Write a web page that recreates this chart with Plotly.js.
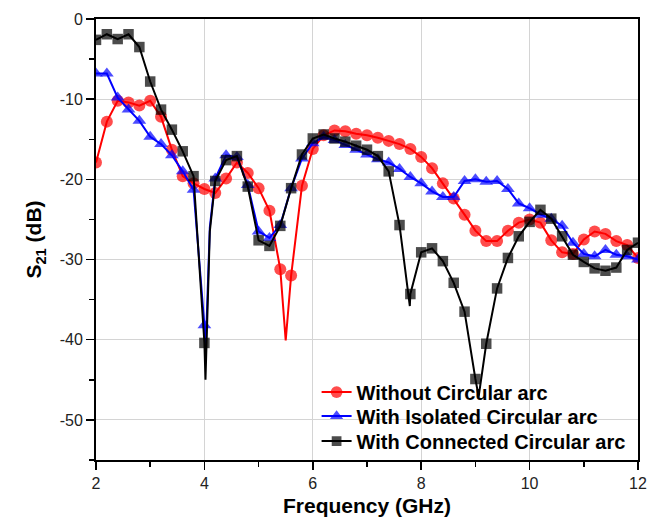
<!DOCTYPE html>
<html>
<head>
<meta charset="utf-8">
<script src="https://cdn.plot.ly/plotly-3.0.1.min.js"></script>
<style>html,body{margin:0;padding:0;background:#fff;}#chart{width:656px;height:528px;}</style>
</head>
<body>
<div id="chart"></div>
<script>
// Frequency grid of the sampled markers (GHz)
const freq = [2.0,2.2,2.4,2.6,2.8,3.0,3.2,3.4,3.6,3.8,4.0,4.2,4.4,4.6,4.8,5.0,5.2,5.4,5.6,5.8,
              6.0,6.2,6.4,6.6,6.8,7.0,7.2,7.4,7.6,7.8,8.0,8.2,8.4,8.6,8.8,9.0,9.2,9.4,9.6,9.8,
              10.0,10.2,10.4,10.6,10.8,11.0,11.2,11.4,11.6,11.8,12.0];

// S21 (dB) — Without Circular arc
const withoutArc = [-17.9,-12.8,-10.2,-10.4,-10.8,-10.2,-12.2,-16.3,-19.6,-20.5,-21.2,-21.7,-19.9,-17.9,-19.2,-21.1,-23.9,-31.2,-32.0,-20.8,
                    -16.2,-14.5,-13.9,-14.0,-14.3,-14.5,-14.8,-15.2,-15.6,-16.2,-17.2,-18.6,-20.5,-22.4,-24.4,-26.4,-27.7,-27.7,-26.4,-25.4,
                    -25.0,-25.4,-27.6,-29.1,-29.3,-27.5,-26.5,-26.8,-27.7,-28.2,-29.8];
// S21 (dB) — With Isolated Circular arc
const isolatedArc = [-6.8,-6.8,-9.8,-11.3,-12.7,-14.7,-15.6,-17.0,-19.0,-21.3,-38.2,-19.9,-17.0,-17.2,-20.7,-26.5,-27.3,-25.7,-21.1,-17.4,
                     -15.5,-14.7,-15.1,-15.7,-16.3,-16.9,-17.5,-17.9,-18.7,-19.7,-20.5,-21.5,-22.2,-22.2,-20.2,-20.0,-20.3,-20.2,-21.2,-23.0,
                     -23.6,-24.4,-24.9,-25.8,-27.9,-29.3,-29.6,-28.8,-29.4,-29.6,-30.0];
// S21 (dB) — With Connected Circular arc
const connectedArc = [-2.6,-1.9,-2.5,-1.9,-3.5,-7.8,-11.3,-13.8,-16.5,-19.6,-40.4,-20.2,-17.6,-17.1,-20.9,-27.6,-28.3,-25.8,-21.1,-16.9,
                      -14.9,-14.4,-14.9,-15.3,-15.8,-16.3,-17.1,-19.0,-25.7,-34.3,-29.1,-28.6,-30.2,-32.9,-36.5,-44.9,-40.5,-33.6,-29.8,-27.1,
                      -25.3,-23.8,-24.9,-27.1,-29.4,-30.3,-31.1,-31.4,-31.0,-28.8,-27.9];

// Extra curve points (resonance dips between markers, line only)
const withoutDipF = [5.5];
const withoutDipV = [-40.1];
const isolatedDipF = [4.02, 4.1];
const isolatedDipV = [-42.0, -26.0];
const connectedDipF = [4.02, 4.1, 7.79, 9.06];
const connectedDipV = [-45.0, -26.5, -35.8, -47.1];

const seriesNames = ['Without Circular arc', 'With Isolated Circular arc', 'With Connected Circular arc'];
const yTickVals = [0, -10, -20, -30, -40, -50];
const xTickVals = [2, 4, 6, 8, 10, 12];

function merge(f, v, df, dv, msize) {
  const pts = f.map((x, i) => ({x: x, y: v[i], s: msize}))
    .concat(df.map((x, i) => ({x: x, y: dv[i], s: 0})));
  pts.sort((a, b) => a.x - b.x);
  return {x: pts.map(p => p.x), y: pts.map(p => p.y), s: pts.map(p => p.s)};
}

const styles = [
  {color: '#ff0000', symbol: 'circle', size: 12},
  {color: '#0000ff', symbol: 'triangle-up', size: 12},
  {color: '#000000', symbol: 'square', size: 10.5}
];
const data = [
  [withoutArc, withoutDipF, withoutDipV],
  [isolatedArc, isolatedDipF, isolatedDipV],
  [connectedArc, connectedDipF, connectedDipV]
];
const legendIds = ['legend', 'legend2', 'legend3'];

const traces = data.map((d, k) => {
  const m = merge(freq, d[0], d[1], d[2], styles[k].size);
  return {
    x: m.x, y: m.y, name: seriesNames[k], type: 'scatter', mode: 'lines+markers',
    legend: legendIds[k],
    line: {color: styles[k].color, width: 2},
    marker: {color: styles[k].color, symbol: styles[k].symbol, size: m.s, line: {width: 0}}
  };
});

const legendFont = {size: 20, family: 'Liberation Sans, Arial, sans-serif', color: '#000', weight: 'bold'};
function legendAt(yPaper) {
  return {x: 0.407, y: yPaper, xanchor: 'left', yanchor: 'middle',
          bgcolor: 'rgba(0,0,0,0)', borderwidth: 0, font: legendFont};
}

const layout = {
  width: 656, height: 528,
  margin: {l: 96, r: 18, t: 19, b: 68},
  paper_bgcolor: '#ffffff', plot_bgcolor: '#ffffff',
  font: {family: 'Liberation Sans, Arial, sans-serif', color: '#000'},
  showlegend: true,
  legend: legendAt(0.154),
  legend2: legendAt(0.0995),
  legend3: legendAt(0.043),
  xaxis: {
    range: [2, 12], tickmode: 'array', tickvals: xTickVals, ticktext: xTickVals.map(String),
    ticks: 'outside', ticklen: 8, tickwidth: 1.5, tickcolor: '#000',
    showline: true, linecolor: '#000', linewidth: 2, mirror: true,
    showgrid: true, gridcolor: '#d4d4d4', gridwidth: 1, zeroline: false,
    tickfont: {size: 16, color: '#222'},
    minor: {dtick: 1, tick0: 2, ticks: 'outside', ticklen: 5, tickwidth: 1.5, tickcolor: '#000', showgrid: false},
    title: {text: 'Frequency (GHz)', font: {size: 21, weight: 'bold', color: '#000'}, standoff: 7}
  },
  yaxis: {
    range: [-55, 0], tickmode: 'array', tickvals: yTickVals, ticktext: yTickVals.map(String),
    ticks: 'outside', ticklen: 8, tickwidth: 1.5, tickcolor: '#000',
    showline: true, linecolor: '#000', linewidth: 2, mirror: true,
    showgrid: true, gridcolor: '#d4d4d4', gridwidth: 1, zeroline: false,
    tickfont: {size: 16, color: '#222'},
    minor: {dtick: 5, tick0: 0, ticks: 'outside', ticklen: 5, tickwidth: 1.5, tickcolor: '#000', showgrid: false},
    title: {text: 'S<sub>21</sub> (dB)', font: {size: 21, weight: 'bold', color: '#000'}, standoff: 12}
  }
};

Plotly.newPlot('chart', traces, layout, {displayModeBar: false, staticPlot: true});
</script>
</body>
</html>
